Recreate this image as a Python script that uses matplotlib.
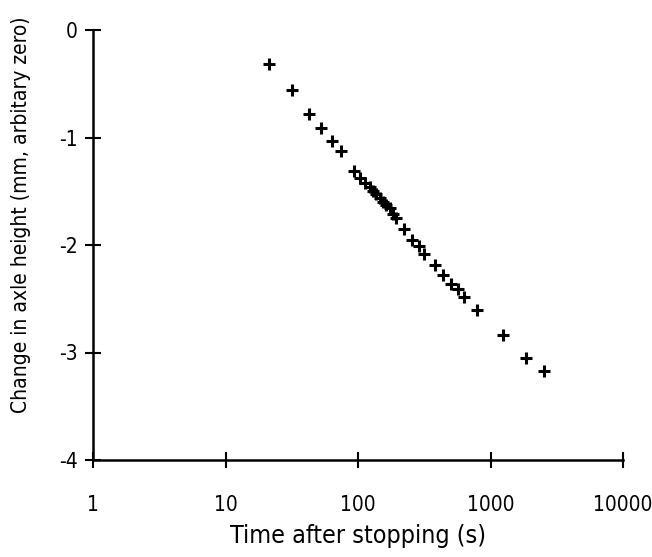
import matplotlib
matplotlib.use("Agg")
import matplotlib.pyplot as plt
from matplotlib.ticker import FixedLocator, NullLocator

# time after stopping (s) and change in axle height (mm)
time_s = [21.4, 31.9, 42.6, 52.8, 63.9, 74.7, 92.9, 104.4, 113.8, 122.7,
          130.2, 137.8, 145.9, 154.9, 164.0, 173.6, 184.2, 195.0, 222.2, 254.2,
          287.1, 316.8, 380.2, 440.6, 503.5, 564.6, 634.4, 784.5, 1241, 1854, 2512]
height_mm = [-0.32, -0.56, -0.78, -0.91, -1.03, -1.13, -1.31, -1.38, -1.42, -1.46,
             -1.50, -1.53, -1.56, -1.60, -1.63, -1.66, -1.71, -1.75, -1.85, -1.95,
             -2.01, -2.08, -2.19, -2.28, -2.36, -2.41, -2.48, -2.60, -2.84, -3.05, -3.17]

x_ticks = [1, 10, 100, 1000, 10000]
x_labels = ["1", "10", "100", "1000", "10000"]
y_ticks = [0, -1, -2, -3, -4]
y_labels = ["0", "-1", "-2", "-3", "-4"]

plt.rcParams['font.family'] = ['DejaVu Sans']
plt.rcParams['font.stretch'] = 'condensed'

fig = plt.figure(figsize=(6.52, 5.57), dpi=100)
ax = fig.add_axes([93 / 652, 1 - 460 / 557, (623 - 93) / 652, (460 - 30) / 557])

ax.plot(time_s, height_mm, linestyle='none', marker='+', color='black',
        markersize=9, markeredgewidth=2.2, clip_on=False)

ax.set_xscale('log')
ax.set_xlim(1, 10000)
ax.set_ylim(-4, 0)
ax.xaxis.set_major_locator(FixedLocator(x_ticks))
ax.xaxis.set_minor_locator(NullLocator())
ax.set_xticklabels(x_labels)
ax.set_yticks(y_ticks)
ax.set_yticklabels(y_labels)

for side in ['top', 'right']:
    ax.spines[side].set_visible(False)
for side in ['left', 'bottom']:
    ax.spines[side].set_linewidth(1.8)

ax.tick_params(axis='both', direction='inout', length=12, width=1.5,
               labelsize=15, colors='black')
ax.tick_params(axis='x', pad=19)
ax.tick_params(axis='y', pad=5)

fig.text(358 / 652, 1 - 536 / 557, "Time after stopping (s)", fontsize=18,
         ha='center', va='center')
fig.text(21 / 652, 1 - 215 / 557, "Change in axle height (mm, arbitary zero)",
         fontsize=15, rotation=90, ha='center', va='center')

fig.savefig("out.png", dpi=100)
